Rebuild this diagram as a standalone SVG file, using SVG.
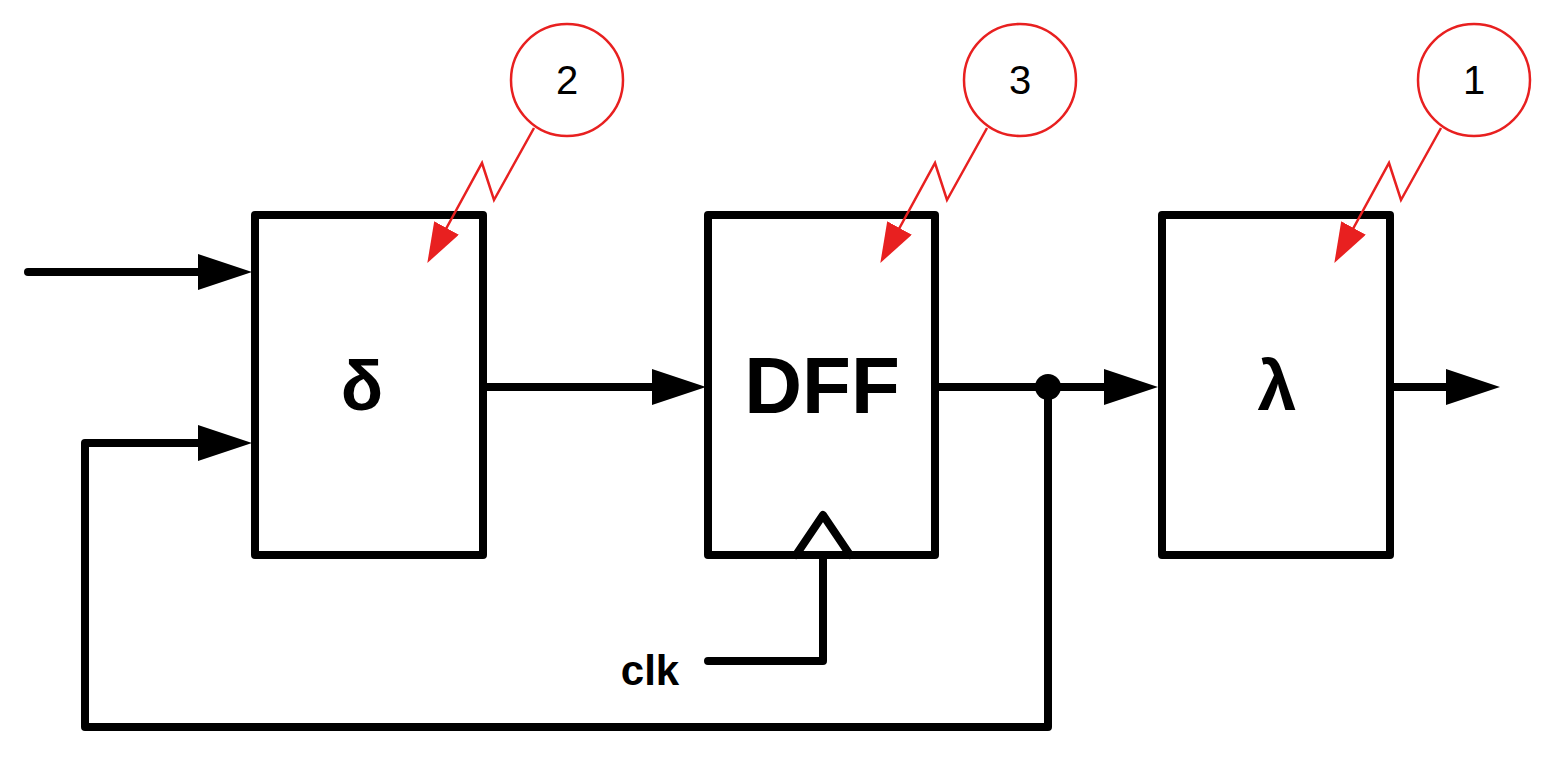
<svg xmlns="http://www.w3.org/2000/svg" width="1551" height="760" viewBox="0 0 1551 760">
<style>
.b{fill:none;stroke:#000;stroke-width:8;stroke-linejoin:round;stroke-linecap:round}
.c{fill:#fff;stroke:#e82020;stroke-width:2.5}
.z{fill:none;stroke:#e82020;stroke-width:2.5}
.t{font-family:"Liberation Sans",Arial,sans-serif;font-weight:bold;text-anchor:middle}
.n{font-family:"Liberation Sans",Arial,sans-serif;font-size:40px;text-anchor:middle}
</style>
<defs>
<marker id="a" markerUnits="userSpaceOnUse" markerWidth="60" markerHeight="40" refX="34" refY="18" orient="auto"><path d="M0,0 L54,18 L0,36 Z" fill="#000"/></marker>
<marker id="r" markerUnits="userSpaceOnUse" markerWidth="50" markerHeight="40" refX="24" refY="14" orient="auto"><path d="M0,0 L40,14 L0,28 Z" fill="#e82020"/></marker>
</defs>
<rect width="1551" height="760" fill="#fff"/>
<g id="connectors">
<path class="b" d="M28,272 H232" marker-end="url(#a)"/>
<path class="b" d="M1048,387 V727 H85 V443 H232" marker-end="url(#a)"/>
<path class="b" d="M483,387 H686" marker-end="url(#a)"/>
<path class="b" d="M935,387 H1138" marker-end="url(#a)"/>
<path class="b" d="M1390,387 H1480" marker-end="url(#a)"/>
<circle cx="1048" cy="387" r="13"/>
<path class="b" d="M708,661 H823 V555"/>
</g>
<g id="delta"><rect class="b" x="255" y="215" width="228" height="340"/><text class="t" x="362" y="410" font-size="70">δ</text></g>
<g id="dff"><rect class="b" x="708" y="215" width="227" height="340"/><path class="b" d="M796,555 L823,515 L850,555"/><text class="t" x="822" y="413" font-size="80">DFF</text></g>
<g id="lambda"><rect class="b" x="1162" y="215" width="228" height="340"/><text class="t" x="1277" y="410" font-size="70">λ</text></g>
<g id="clk"><text class="t" x="650" y="685" font-size="42">clk</text></g>
<g id="callout2"><path class="z" d="M534,128 L494,200 L482,163 L435,249" marker-end="url(#r)"/><circle class="c" cx="567" cy="80" r="56"/><text class="n" x="567" y="94">2</text></g>
<g id="callout3"><path class="z" d="M987,128 L947,200 L935,163 L888,249" marker-end="url(#r)"/><circle class="c" cx="1020" cy="80" r="56"/><text class="n" x="1020" y="94">3</text></g>
<g id="callout1"><path class="z" d="M1441,128 L1401,200 L1389,163 L1342,249" marker-end="url(#r)"/><circle class="c" cx="1474" cy="80" r="56"/><text class="n" x="1474" y="94">1</text></g>
</svg>
